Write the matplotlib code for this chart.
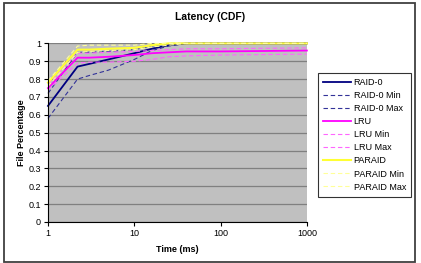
import matplotlib
matplotlib.use("Agg")
import matplotlib.pyplot as plt
from matplotlib.patches import Rectangle

plt.rcParams["font.family"] = ["Liberation Sans", "DejaVu Sans"]

# latency points (ms) and CDF values
time_ms = [1, 2.2, 3, 5, 10, 16, 25, 40, 100, 1000]

raid0 = [0.65, 0.87, 0.885, 0.91, 0.945, 0.97, 0.99, 1.0, 1.0, 1.0]
raid0_min = [0.58, 0.80, 0.82, 0.85, 0.91, 0.96, 0.985, 1.0, 1.0, 1.0]
raid0_max = [0.72, 0.95, 0.95, 0.955, 0.965, 0.985, 1.0, 1.0, 1.0, 1.0]
lru = [0.75, 0.92, 0.92, 0.925, 0.935, 0.945, 0.95, 0.955, 0.955, 0.96]
lru_min = [0.74, 0.89, 0.895, 0.895, 0.90, 0.91, 0.925, 0.93, 0.935, 0.94]
lru_max = [0.77, 0.945, 0.945, 0.95, 0.955, 0.96, 0.965, 0.97, 0.97, 0.975]
paraid = [0.78, 0.965, 0.965, 0.97, 0.975, 0.99, 1.0, 1.0, 1.0, 1.0]
paraid_min = [0.76, 0.95, 0.955, 0.96, 0.965, 0.98, 0.99, 1.0, 1.0, 1.0]
paraid_max = [0.79, 0.985, 0.99, 0.99, 0.99, 1.0, 1.0, 1.0, 1.0, 1.0]

y_ticks = [0, 0.1, 0.2, 0.3, 0.4, 0.5, 0.6, 0.7, 0.8, 0.9, 1]
y_tick_labels = ["0", "0.1", "0.2", "0.3", "0.4", "0.5", "0.6", "0.7", "0.8", "0.9", "1"]
x_ticks = [1, 10, 100, 1000]
x_tick_labels = ["1", "10", "100", "1000"]

dash = (0, (4, 2.5))
series = [
    ("RAID-0", raid0, "#000080", "-", 1.3),
    ("RAID-0 Min", raid0_min, "#333399", dash, 0.8),
    ("RAID-0 Max", raid0_max, "#333399", dash, 0.8),
    ("LRU", lru, "#FF00FF", "-", 1.3),
    ("LRU Min", lru_min, "#FF66FF", dash, 0.8),
    ("LRU Max", lru_max, "#FF66FF", dash, 0.8),
    ("PARAID", paraid, "#FFFF33", "-", 1.5),
    ("PARAID Min", paraid_min, "#FFFF99", dash, 0.8),
    ("PARAID Max", paraid_max, "#FFFF99", dash, 0.8),
]

fig = plt.figure(figsize=(4.21, 2.63), dpi=100)
ax = fig.add_axes([0.114, 0.156, 0.615, 0.679])
ax.set_facecolor("#C0C0C0")

for label, vals, color, ls, lw in series:
    ax.plot(time_ms, vals, color=color, linestyle=ls, linewidth=lw, label=label,
            clip_on=False)

ax.set_xscale("log")
ax.set_xlim(1, 1000)
ax.set_ylim(0, 1)
ax.set_xticks(x_ticks)
ax.set_xticklabels(x_tick_labels)
ax.minorticks_off()
ax.set_yticks(y_ticks)
ax.set_yticklabels(y_tick_labels)
ax.tick_params(labelsize=6.5, length=3, width=0.8, color="black", pad=2)

ax.yaxis.grid(True, color="#808080", linewidth=0.9)
ax.set_axisbelow(True)
for side in ["top", "right"]:
    ax.spines[side].set_visible(False)
for side in ["left", "bottom"]:
    ax.spines[side].set_color("black")
    ax.spines[side].set_linewidth(0.8)

ax.set_xlabel("Time (ms)", fontsize=6.5, fontweight="bold", labelpad=5)
ax.set_ylabel("File Percentage", fontsize=6.5, fontweight="bold", labelpad=2)
fig.text(0.5, 0.935, "Latency (CDF)", ha="center", va="center",
         fontsize=7.5, fontweight="bold")

leg = fig.legend(loc="upper left", bbox_to_anchor=(0.755, 0.722),
                 fontsize=6.5, frameon=True, fancybox=False, handlelength=3.1,
                 handletextpad=0.3, labelspacing=0.45, borderpad=0.55,
                 borderaxespad=0)
leg.get_frame().set_edgecolor("black")
leg.get_frame().set_linewidth(0.8)

# outer chart border
fig.patches.append(Rectangle((0.01, 0.005), 0.975, 0.983, transform=fig.transFigure,
                             fill=False, edgecolor="#404040", linewidth=1.3))

fig.savefig("out.png", dpi=100)
